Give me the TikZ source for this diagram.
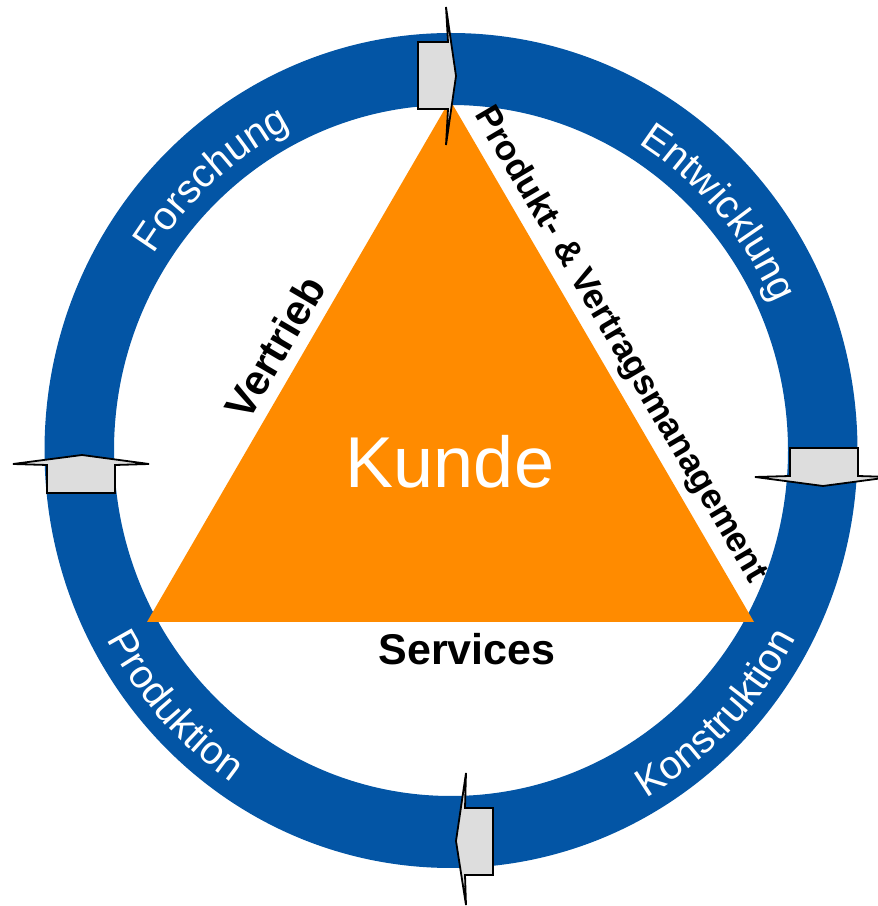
\documentclass[tikz,border=0pt]{standalone}
\usepackage{fontspec}
\setmainfont{Liberation Sans}
\usetikzlibrary{decorations.text}

\definecolor{ringblue}{RGB}{3,85,165}
\definecolor{kundeorange}{RGB}{255,139,0}
\definecolor{arrowgray}{RGB}{221,221,221}
\newcommand{\ringfont}{\fontsize{40}{42}\selectfont}

\tikzset{
  ringlabel/.style={decorate, decoration={text along path, text align=center,
      text color=white, text={|\ringfont|#1}}},
  sidelabel/.style={font=\fontsize{42}{44}\selectfont\bfseries, inner sep=0pt},
  blockarrow/.style={fill=arrowgray, draw=black, line width=1.8pt}
}

\begin{document}
\begin{tikzpicture}[x=1pt,y=1pt]
\useasboundingbox (0,0) rectangle (878,906);
% ring
\fill[ringblue, even odd rule] (451,455.5) ellipse [x radius=406.5, y radius=417.5]
  (451,455.5) ellipse [x radius=337, y radius=345.5];
% triangle
\fill[kundeorange] (450,806) -- (147,284) -- (754,284) -- cycle;
\node[white, font=\fontsize{72}{72}\selectfont, anchor=base, inner sep=0pt] (kunde) at (450,418) {Kunde};
% sides
\node[sidelabel, rotate=59.6] (vertrieb) at (275,559) {Vertrieb};
\node[sidelabel, font=\fontsize{35}{36}\selectfont\bfseries, rotate=-59.5] (produkt) at (620,561) {Produkt- \& Vertragsmanagement};
\node[sidelabel, font=\fontsize{43}{44}\selectfont\bfseries, anchor=base] (services) at (467,241) {Services};
% ring labels
\path[ringlabel=Forschung] ([shift={(451,455.5)}]157:353pt and 362pt)
  arc[start angle=157, end angle=107, x radius=353pt, y radius=362pt];
\path[ringlabel=Entwicklung] ([shift={(451,455.5)}]66:353pt and 362pt)
  arc[start angle=66, end angle=16, x radius=353pt, y radius=362pt];
\path[ringlabel=Konstruktion] ([shift={(451,455.5)}]-69:390.5pt and 401.5pt)
  arc[start angle=-69, end angle=-19, x radius=390.5pt, y radius=401.5pt];
\path[ringlabel=Produktion] ([shift={(451,455.5)}]197:390.5pt and 401.5pt)
  arc[start angle=197, end angle=247, x radius=390.5pt, y radius=401.5pt];
% arrows
\draw[blockarrow] (418,864) -- (448,864) -- (446,899) -- (456,830) -- (446,761) -- (448,797) -- (418,797) -- cycle;
\draw[blockarrow] (790,458) -- (858,458) -- (858,430) -- (891,429) -- (823,420) -- (755,429) -- (790,430) -- cycle;
\draw[blockarrow] (493,98) -- (493,31) -- (465,31) -- (466,1) -- (456,65) -- (466,133) -- (465,98) -- cycle;
\draw[blockarrow] (47,413) -- (47,441) -- (13,442) -- (82,451) -- (149,442) -- (115,441) -- (115,413) -- cycle;
\end{tikzpicture}
\end{document}
